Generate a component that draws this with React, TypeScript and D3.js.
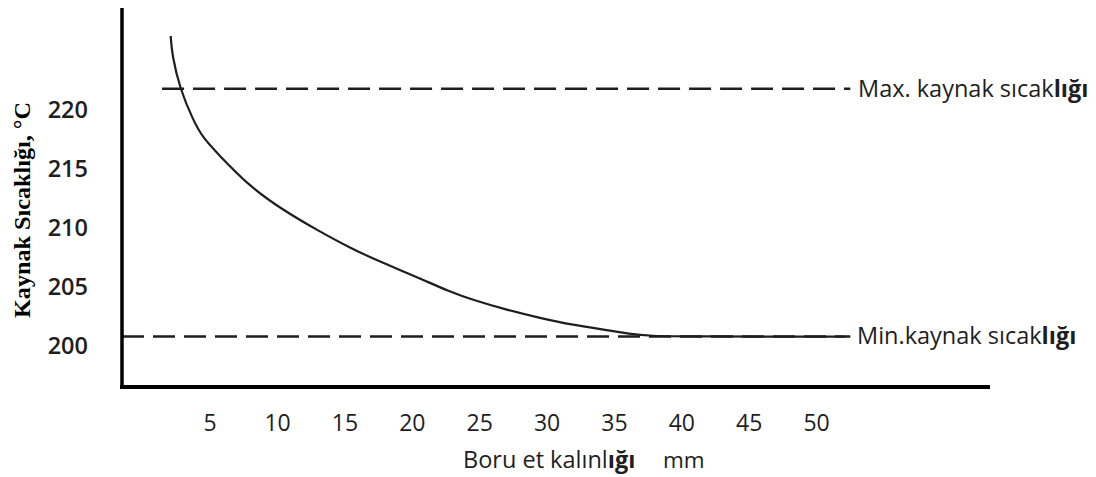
import React from "react";
import * as d3 from "d3";

const thickness = [2.07, 2.17, 2.76, 3.73, 4.47, 5.51, 7.96, 10.4, 12.92, 15.37, 17.82, 20.35, 22.8, 24.5, 27.03, 29.47, 31.92, 34.44, 36.15, 37.41, 41.35, 52.1];
const temperature = [226.27, 224.66, 221.78, 219.15, 217.63, 216.36, 213.47, 211.53, 209.83, 208.31, 207.03, 205.85, 204.58, 203.9, 203.05, 202.37, 201.78, 201.36, 201.02, 200.85, 200.8, 200.8];
const xTicks = [5, 10, 15, 20, 25, 30, 35, 40, 45, 50];
const yTicks = [200, 205, 210, 215, 220];
const maxTemp = 221.8;
const minTemp = 200.8;
const maxLineFrom = 1.43;
const limitLineTo = 52.5;
const maxLabel = ["Max. kaynak sıcak", "lığı"];
const minLabel = ["Min.kaynak sıcak", "lığı"];
const xTitle = ["Boru et kalınl", "ığı"];
const xUnit = "mm";
const yTitle = "Kaynak Sıcaklığı, °C";

const W = 1096;
const H = 477;

export default function App() {
  const x = d3.scaleLinear().domain([0, 50]).range([142.8, 816.6]);
  const y = d3.scaleLinear().domain([200, 220]).range([346, 110]);
  const data = thickness.map((t, i) => [t, temperature[i]] as [number, number]);
  const line = d3
    .line<[number, number]>()
    .x((d) => x(d[0]))
    .y((d) => y(d[1]))
    .curve(d3.curveBasis);
  const sans = "'Open Sans', 'Noto Sans', sans-serif";
  const ink = "#1e1e1e";
  const axisX = 122;
  const axisY = 387;
  return (
    <svg
      width={W}
      height={H}
      viewBox={`0 0 ${W} ${H}`}
      style={{ position: "absolute", left: 0, top: 0, background: "#fff" }}
    >
      <rect width={W} height={H} fill="#fff" />
      {/* limit lines */}
      <line
        x1={x(maxLineFrom)}
        x2={x(limitLineTo)}
        y1={y(maxTemp)}
        y2={y(maxTemp)}
        stroke={ink}
        strokeWidth={2.5}
        strokeDasharray="22 9"
      />
      <line
        x1={axisX}
        x2={x(limitLineTo)}
        y1={y(minTemp)}
        y2={y(minTemp)}
        stroke={ink}
        strokeWidth={2.5}
        strokeDasharray="22 9"
      />
      {/* curve */}
      <path d={line(data) || ""} fill="none" stroke={ink} strokeWidth={2.2} />
      {/* axes */}
      <line x1={axisX} x2={axisX} y1={8} y2={axisY + 2} stroke="#000" strokeWidth={3.5} />
      <line x1={axisX - 2} x2={990} y1={axisY} y2={axisY} stroke="#000" strokeWidth={4} />
      {/* x tick labels */}
      {xTicks.map((t) => (
        <text
          key={t}
          x={x(t)}
          y={431}
          textAnchor="middle"
          fontFamily={sans}
          fontSize={23}
          fill={ink}
        >
          {t}
        </text>
      ))}
      {/* y tick labels */}
      {yTicks.map((t) => (
        <text
          key={t}
          x={88}
          y={y(t)}
          dy="0.36em"
          textAnchor="end"
          fontFamily={sans}
          fontSize={23.5}
          fontWeight={600}
          fill={ink}
        >
          {t}
        </text>
      ))}
      {/* limit labels */}
      <text x={858} y={y(maxTemp)} dy="0.36em" fontFamily={sans} fontSize={23.5} fill={ink}>
        {maxLabel[0]}
        <tspan fontWeight={700}>{maxLabel[1]}</tspan>
      </text>
      <text x={857} y={y(minTemp)} dy="0.3em" fontFamily={sans} fontSize={23.5} fill={ink}>
        {minLabel[0]}
        <tspan fontWeight={700}>{minLabel[1]}</tspan>
      </text>
      {/* x title */}
      <text x={463} y={468} fontFamily={sans} fontSize={23.5} fill={ink}>
        {xTitle[0]}
        <tspan fontWeight={700}>{xTitle[1]}</tspan>
      </text>
      <text x={663} y={468} fontFamily={sans} fontSize={22.5} fill={ink}>
        {xUnit}
      </text>
      {/* y title */}
      <text
        transform={`translate(30,210) rotate(-90)`}
        textAnchor="middle"
        fontFamily="'Liberation Serif', 'Times New Roman', serif"
        fontWeight={700}
        fontSize={23}
        textLength={216}
        lengthAdjust="spacingAndGlyphs"
        fill="#000"
      >
        {yTitle}
      </text>
    </svg>
  );
}
